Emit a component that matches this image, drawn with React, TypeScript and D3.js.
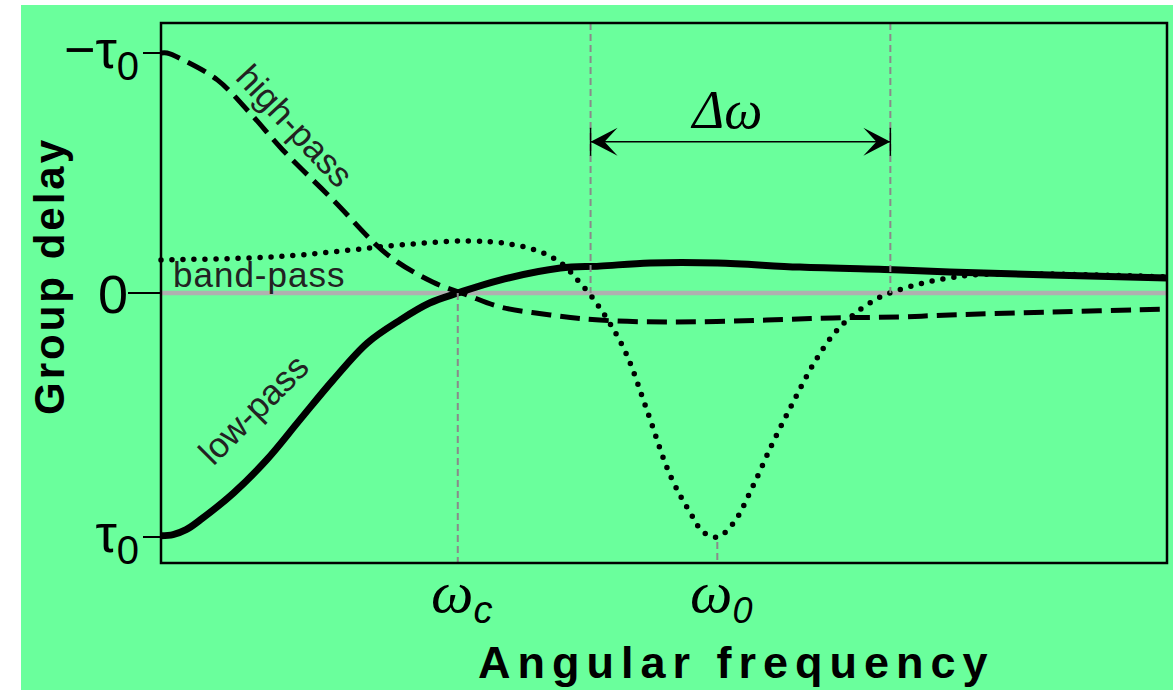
import React from 'react';
import * as d3 from 'd3';

const W = 1173;
const H = 690;

// Normalised angular frequency (0–10); group delay in units of τ0
// (−1 is drawn at the top of the axis, +1 at the bottom).
const lowPassFreq = [0, 0.12, 0.25, 0.39, 0.72, 1.05, 1.38, 1.71, 2.05, 2.38, 2.67, 2.95, 3.37, 3.97, 4.36, 4.86, 5.53, 6.35, 7.35, 7.84, 8.84, 10];
const lowPassDelay = [0.995, 0.99, 0.97, 0.93, 0.82, 0.684, 0.52, 0.357, 0.205, 0.11, 0.041, 0, -0.054, -0.104, -0.112, -0.125, -0.125, -0.108, -0.096, -0.088, -0.075, -0.062];

const highPassFreq = [0, 0.06, 0.22, 0.56, 0.885, 1.21, 1.71, 2.25, 2.7, 3.04, 3.37, 3.87, 4.36, 5.03, 6.02, 6.68, 7.35, 7.84, 8.84, 10];
const highPassDelay = [-1, -1, -0.971, -0.888, -0.75, -0.596, -0.388, -0.16, -0.046, 0.008, 0.057, 0.09, 0.111, 0.119, 0.111, 0.102, 0.098, 0.09, 0.078, 0.066];

const bandPassFreq = [0, 0.885, 1.38, 1.88, 2.38, 3.04, 3.47, 3.8, 4.0, 4.14, 4.29, 4.46, 4.63, 4.83, 5.06, 5.26, 5.39, 5.53, 5.69, 5.88, 6.08, 6.28, 6.48, 6.68, 6.88, 7.15, 7.4, 7.62, 7.84, 8.07, 8.84, 10];
const bandPassDelay = [-0.138, -0.146, -0.158, -0.179, -0.2, -0.217, -0.204, -0.167, -0.117, -0.054, 0.02, 0.123, 0.254, 0.48, 0.746, 0.9, 0.98, 1.0, 0.943, 0.795, 0.615, 0.451, 0.295, 0.172, 0.09, 0.016, -0.021, -0.046, -0.063, -0.075, -0.079, -0.067];

// Marker frequencies: cutoff, centre and the band edges
const omegaC = 2.95;
const omega0 = 5.53;
const bandEdges = [4.27, 7.25];

const yTickValues = [-1, 0, 1];
const yTickMain = ['−τ', '0', 'τ'];
const yTickSub = ['0', '', '0'];

const SANS = '"Liberation Sans", Arial, sans-serif';
const SERIF = '"Liberation Serif", "Times New Roman", serif';
const GREEN = '#6aff9c';

type Pt = [number, number];
const zip = (a: number[], b: number[]): Pt[] => a.map((v, i) => [v, b[i]]);

export default function App() {
  const left = 161;
  const right = 1167;
  const top = 23;
  const bottom = 563;

  const x = d3.scaleLinear().domain([0, 10]).range([left, right]);
  const y = d3.scaleLinear().domain([-1, 0, 1]).range([53, 293, 537]);

  const line = d3
    .line<Pt>()
    .x((d) => x(d[0]))
    .y((d) => y(d[1]))
    .curve(d3.curveCatmullRom.alpha(0.5));

  const low = line(zip(lowPassFreq, lowPassDelay)) || '';
  const high = line(zip(highPassFreq, highPassDelay)) || '';
  const band = line(zip(bandPassFreq, bandPassDelay)) || '';

  const arrowY = y(-0.63);
  const xa = x(bandEdges[0]);
  const xb = x(bandEdges[1]);
  const head = (tip: number, dir: number) =>
    `M${tip},${arrowY} L${tip + dir * 27},${arrowY - 14} L${tip + dir * 14},${arrowY} L${tip + dir * 27},${arrowY + 14} Z`;

  const grayDash = { stroke: '#8a8a8a', strokeWidth: 2, strokeDasharray: '7 4', fill: 'none' };

  return (
    <svg
      width={W}
      height={H}
      style={{ position: 'absolute', left: 0, top: 0, background: '#fff' }}
    >
      <rect x={21} y={5} width={W - 21} height={H - 5} fill={GREEN} />

      {/* zero reference line */}
      <line x1={left} x2={right} y1={y(0)} y2={y(0)} stroke="#b0b0b0" strokeWidth={4.5} />

      {/* curves */}
      <path d={band} fill="none" stroke="#000" strokeWidth={5.5} strokeLinecap="round" strokeDasharray="0 11" />
      <path d={high} fill="none" stroke="#000" strokeWidth={5} strokeDasharray="20 9" />
      <path d={low} fill="none" stroke="#000" strokeWidth={7} strokeLinejoin="round" />

      {/* marker lines */}
      <line x1={x(omegaC)} x2={x(omegaC)} y1={y(0)} y2={bottom} style={grayDash} />
      <line x1={x(omega0)} x2={x(omega0)} y1={y(1.02)} y2={bottom} style={grayDash} />
      {bandEdges.map((f) => (
        <line key={f} x1={x(f)} x2={x(f)} y1={top} y2={y(0)} style={grayDash} />
      ))}

      {/* frame */}
      <path
        d={`M${left},${top} H${right} V${bottom} H${left} Z`}
        fill="none"
        stroke="#000"
        strokeWidth={2.5}
      />

      {/* y ticks */}
      {yTickValues.map((v, i) => {
        const len = v === 0 ? 33 : 18;
        return (
          <g key={v}>
            <line x1={left - len} x2={left} y1={y(v)} y2={y(v)} stroke="#000" strokeWidth={2} />
            <text
              x={v === 0 ? left - 33 : left - 22}
              y={y(v) + (v === 0 ? 20 : 15)}
              textAnchor="end"
              fontFamily={SANS}
              fontSize={54}
              fill="#000"
            >
              {yTickMain[i]}
              {yTickSub[i] && (
                <tspan fontSize={40} dy={12}>
                  {yTickSub[i]}
                </tspan>
              )}
            </text>
          </g>
        );
      })}

      {/* frequency markers */}
      {[
        { f: omegaC, sub: 'c', size: 38 },
        { f: omega0, sub: '0', size: 36 },
      ].map((m) => (
        <text key={m.sub} x={x(m.f) + 4} y={612} textAnchor="middle" fill="#000">
          <tspan fontFamily={SERIF} fontStyle="italic" fontSize={60}>ω</tspan>
          <tspan fontFamily={SANS} fontStyle="italic" fontSize={m.size} dy={11}>
            {m.sub}
          </tspan>
        </text>
      ))}

      {/* bandwidth arrow */}
      <line x1={xa} x2={xb} y1={arrowY} y2={arrowY} stroke="#000" strokeWidth={1.5} />
      <path d={head(xa, 1)} fill="#000" />
      <path d={head(xb, -1)} fill="#000" />
      <line x1={xa} x2={xa} y1={arrowY - 14} y2={arrowY + 14} stroke="#000" strokeWidth={1.5} />
      <line x1={xb} x2={xb} y1={arrowY - 14} y2={arrowY + 14} stroke="#000" strokeWidth={1.5} />
      <text
        x={(xa + xb) / 2 - 13}
        y={arrowY - 14}
        textAnchor="middle"
        fontFamily={SERIF}
        fontStyle="italic"
        fontSize={54}
        fill="#000"
      >
        Δω
      </text>

      {/* curve labels */}
      <text
        transform="translate(286,134) rotate(47)"
        textAnchor="middle"
        fontFamily={SANS}
        fontSize={35}
        fill="#222"
      >
        high-pass
      </text>
      <text x={173} y={287} fontFamily={SANS} fontSize={35} letterSpacing={1} fill="#222">
        band-pass
      </text>
      <text
        transform="translate(262,418) rotate(-45)"
        textAnchor="middle"
        fontFamily={SANS}
        fontSize={35}
        fill="#222"
      >
        low-pass
      </text>

      {/* axis titles */}
      <text
        transform="translate(64,415) rotate(-90)"
        fontFamily={SANS}
        fontWeight="bold"
        fontSize={42}
        letterSpacing={3}
        fill="#000"
      >
        Group delay
      </text>
      <text
        x={478}
        y={678}
        fontFamily={SANS}
        fontWeight="bold"
        fontSize={45}
        letterSpacing={7}
        fill="#000"
      >
        Angular frequency
      </text>
    </svg>
  );
}
